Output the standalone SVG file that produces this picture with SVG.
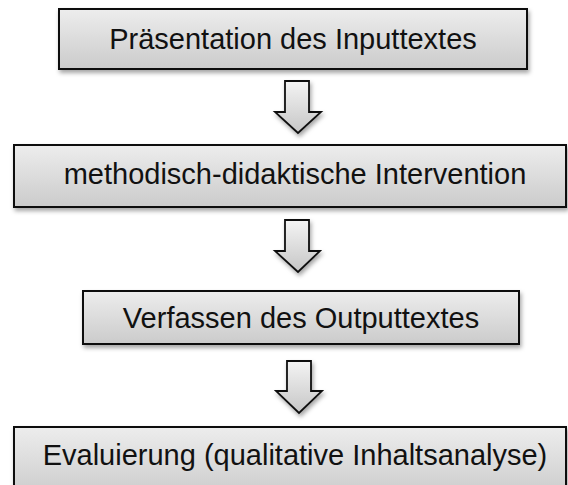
<svg xmlns="http://www.w3.org/2000/svg" width="568" height="485" viewBox="0 0 568 485">
<defs>
<linearGradient id="boxGrad" x1="0" y1="0" x2="0" y2="1">
<stop offset="0" stop-color="#ededed"/>
<stop offset="1" stop-color="#cbcbcb"/>
</linearGradient>
<linearGradient id="arrGrad" x1="0" y1="0" x2="0" y2="1">
<stop offset="0" stop-color="#f4f4f4"/>
<stop offset="1" stop-color="#c6c6c6"/>
</linearGradient>
<filter id="shadow" x="-10%" y="-20%" width="130%" height="160%">
<feDropShadow dx="1.5" dy="3" stdDeviation="2.2" flood-color="#000" flood-opacity="0.35"/>
</filter>
</defs>
<style>
.box{fill:url(#boxGrad);stroke:#111;stroke-width:2;filter:url(#shadow)}
.arrow{fill:url(#arrGrad);stroke:#111;stroke-width:1.8;stroke-linejoin:miter;filter:url(#shadow)}
.label{font-family:"Liberation Sans",Arial,sans-serif;font-size:29px;fill:#111;text-anchor:middle}
</style>
<rect width="568" height="485" fill="#fff"/>
<g id="connectors">
<path class="arrow" d="M285,81 H309 V112 H321 L298,133 L275,112 H285 Z"/>
<path class="arrow" d="M285,220 H309 V251 H320 L298,272 L275,251 H285 Z"/>
<path class="arrow" d="M287,361 H311 V391 H322 L299,413 L276,391 H287 Z"/>
</g>
<g id="node1">
<rect class="box" x="59" y="9" width="468" height="60"/>
<text class="label" x="293" y="49">Präsentation des Inputtextes</text>
</g>
<g id="node2">
<rect class="box" x="14" y="145" width="552" height="62"/>
<text class="label" x="295" y="184">methodisch-didaktische Intervention</text>
</g>
<g id="node3">
<rect class="box" x="83" y="291" width="436" height="53"/>
<text class="label" x="301" y="328">Verfassen des Outputtextes</text>
</g>
<g id="node4">
<rect class="box" x="14" y="427" width="552" height="70"/>
<text class="label" x="295" y="465">Evaluierung (qualitative Inhaltsanalyse)</text>
</g>
</svg>
